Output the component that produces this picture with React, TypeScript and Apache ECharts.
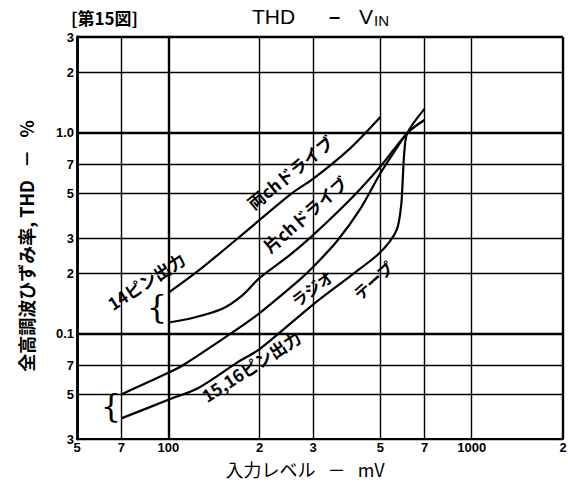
import React, { useEffect, useRef } from "react";
import * as echarts from "echarts";

// Axis ticks (values) and their printed labels
const xTicks = [50, 70, 100, 200, 300, 500, 700, 1000, 2000];
const xTickLabels = ["5", "7", "100", "2", "3", "5", "7", "1000", "2"];
const yTicks = [0.03, 0.05, 0.07, 0.1, 0.2, 0.3, 0.5, 0.7, 1, 2, 3];
const yTickLabels = ["3", "5", "7", "0.1", "2", "3", "5", "7", "1.0", "2", "3"];
const boldX = [100, 2000];
const boldY = [0.1, 1, 3];

// 両chドライブ (14ピン出力)
const bothX = [100, 125, 170, 255, 300, 395, 500];
const bothY = [0.16, 0.205, 0.3, 0.5, 0.59, 0.83, 1.2];
// 片chドライブ (14ピン出力)
const singleX = [100, 120, 150, 175, 200, 250, 300, 400, 500, 614, 700];
const singleY = [0.114, 0.12, 0.133, 0.155, 0.19, 0.245, 0.31, 0.47, 0.68, 1.0, 1.16];
// ラジオ (15,16ピン出力)
const radioX = [70, 100, 112, 160, 200, 270, 300, 360, 430, 500, 560, 614, 700];
const radioY = [0.05, 0.064, 0.07, 0.1, 0.127, 0.185, 0.215, 0.29, 0.42, 0.63, 0.82, 1.0, 1.16];
// テープ (15,16ピン出力)
const tapeX = [70, 100, 126, 171, 200, 300, 400, 489, 535, 569, 586, 592, 600, 614, 700];
const tapeY = [0.038, 0.047, 0.054, 0.073, 0.084, 0.14, 0.195, 0.247, 0.286, 0.337, 0.44, 0.57, 0.81, 1.0, 1.32];

const pairs = (xs: number[], ys: number[]) => xs.map((x, i) => [x, ys[i]]);

const tickFont = {
  color: "#000",
  fontSize: 13,
  fontWeight: "bold" as const,
  fontFamily: "Liberation Sans",
};

function buildOption() {
  const vLines = xTicks.map((v, i) => ({
    xAxis: v,
    lineStyle: { color: "#000", type: "solid", width: boldX.includes(v) ? 2.4 : 1.4 },
    label: { show: true, position: "start", formatter: xTickLabels[i], distance: 2, ...tickFont },
  }));
  const hLines = yTicks.map((v, i) => ({
    yAxis: v,
    lineStyle: { color: "#000", type: "solid", width: boldY.includes(v) ? 2.4 : 1.4 },
    label: { show: true, position: "start", formatter: yTickLabels[i], distance: 3, ...tickFont },
  }));

  const curve = (name: string, xs: number[], ys: number[], extra: any = {}) => ({
    name,
    type: "line",
    data: pairs(xs, ys),
    smooth: 0.3,
    showSymbol: false,
    symbol: "none",
    silent: true,
    lineStyle: { color: "#000", width: 2.2 },
    z: 5,
    ...extra,
  });

  const jp = "Noto Sans CJK JP";
  const lbl = (text: string, x: number, y: number, deg: number, size = 16) => ({
    type: "text",
    x,
    y,
    rotation: (deg * Math.PI) / 180,
    style: {
      text,
      fill: "#000",
      font: `bold ${size}px "${jp}"`,
      align: "center",
      verticalAlign: "middle",
    },
    z: 10,
  });

  return {
    animation: false,
    backgroundColor: "#fff",
    grid: { left: 77, right: 5, top: 37, bottom: 51 },
    xAxis: {
      type: "log",
      logBase: 10,
      min: 50,
      max: 2000,
      axisLine: { show: true, lineStyle: { color: "#000", width: 2.2 } },
      axisTick: { show: false },
      axisLabel: { show: false },
      splitLine: { show: false },
    },
    yAxis: {
      type: "log",
      logBase: 10,
      min: 0.03,
      max: 3,
      axisLine: { show: true, lineStyle: { color: "#000", width: 2.8 } },
      axisTick: { show: false },
      axisLabel: { show: false },
      splitLine: { show: false },
    },
    series: [
      curve("両chドライブ", bothX, bothY, {
        markLine: {
          silent: true,
          symbol: ["none", "none"],
          animation: false,
          data: [...vLines, ...hLines],
        },
      }),
      curve("片chドライブ", singleX, singleY),
      curve("ラジオ", radioX, radioY),
      curve("テープ", tapeX, tapeY),
    ],
    graphic: [
      {
        type: "text",
        x: 71,
        y: 17,
        style: { text: "[第15図]", fill: "#000", font: `bold 17px "${jp}"`, verticalAlign: "middle" },
      },
      {
        type: "text",
        x: 252,
        y: 16,
        style: { text: "THD", fill: "#000", font: '21px "Liberation Sans"', verticalAlign: "middle" },
      },
      {
        type: "text",
        x: 329,
        y: 16,
        style: { text: "–", fill: "#000", font: 'bold 20px "Liberation Sans"', verticalAlign: "middle" },
      },
      {
        type: "text",
        x: 359,
        y: 16,
        style: { text: "V", fill: "#000", font: '21px "Liberation Sans"', verticalAlign: "middle" },
      },
      {
        type: "text",
        x: 374,
        y: 20,
        style: { text: "IN", fill: "#000", font: '15px "Liberation Sans"', verticalAlign: "middle" },
      },
      {
        type: "text",
        x: 26,
        y: 246,
        rotation: Math.PI / 2,
        style: {
          text: "全高調波ひずみ率, THD   －   %",
          fill: "#000",
          font: `bold 18px "${jp}"`,
          align: "center",
          verticalAlign: "middle",
        },
      },
      {
        type: "text",
        x: 305,
        y: 469,
        style: {
          text: "入力レベル   －   mV",
          fill: "#000",
          font: `18px "${jp}"`,
          align: "center",
          verticalAlign: "middle",
        },
      },
      lbl("両chドライブ", 290, 172, 39, 17),
      lbl("片chドライブ", 305, 214, 41, 17),
      lbl("14ピン出力", 146, 281, 33, 17),
      lbl("ラジオ", 312, 288, 37, 16),
      lbl("テープ", 373, 280, 42, 16),
      lbl("15,16ピン出力", 251, 366, 33, 17),
      {
        type: "text",
        x: 157,
        y: 307,
        style: { text: "{", fill: "#000", font: '32px "DejaVu Serif"', align: "center", verticalAlign: "middle" },
      },
      {
        type: "text",
        x: 111,
        y: 406,
        style: { text: "{", fill: "#000", font: '32px "DejaVu Serif"', align: "center", verticalAlign: "middle" },
      },
    ],
  };
}

export default function App() {
  const ref = useRef<HTMLDivElement>(null);
  useEffect(() => {
    const chart = echarts.init(ref.current!, undefined, { renderer: "svg" });
    chart.setOption(buildOption() as any);
    return () => chart.dispose();
  }, []);
  return (
    <div
      ref={ref}
      style={{ position: "absolute", left: 0, top: 0, width: 568, height: 490, background: "#fff" }}
    />
  );
}
